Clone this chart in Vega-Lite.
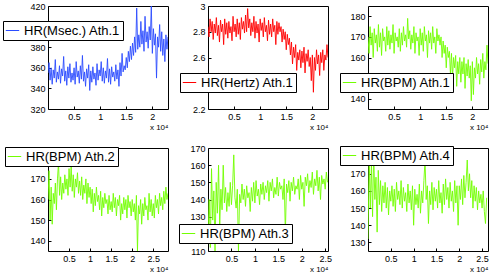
{
"$schema": "https://vega.github.io/schema/vega-lite/v6.json",
"padding": {"left": 2, "top": 1, "right": 2, "bottom": 0},
"background": "white",
"config": {
  "font": "Liberation Sans",
  "view": {"stroke": "black", "strokeWidth": 1},
  "axis": {"domain": false, "grid": false, "ticks": true, "tickSize": -3, "tickColor": "black", "labelPadding": 6, "labelFontSize": 9, "labelColor": "black", "labelFont": "Liberation Sans", "titleFont": "Liberation Sans", "titleFontSize": 8, "titleFontWeight": "normal", "titleColor": "black", "format": "~r"},
  "axisX": {"titleAnchor": "end", "titlePadding": 2},
  "legend": {"orient": "none", "strokeColor": "black", "fillColor": "white", "padding": 2, "cornerRadius": 0, "symbolType": "stroke", "symbolSize": 180, "symbolStrokeWidth": 1, "labelFontSize": 13, "labelFont": "Liberation Sans", "labelColor": "black", "labelOffset": 4, "title": null}
},
"columns": 3,
"spacing": {"row": 39, "column": 40},
"bounds": "flush",
"resolve": {"scale": {"x": "independent", "y": "independent", "color": "independent"}, "legend": {"color": "independent"}},
"concat": [
{
"width": 120, "height": 103,
"data": {"values": [
{"x":0,"y":355},{"x":0.02,"y":365},{"x":0.04,"y":348},{"x":0.06,"y":360},{"x":0.08,"y":344},{"x":0.1,"y":358},{"x":0.12,"y":350},{"x":0.14,"y":368},{"x":0.16,"y":346},{"x":0.18,"y":356},
{"x":0.2,"y":349},{"x":0.22,"y":362},{"x":0.24,"y":345},{"x":0.26,"y":359},{"x":0.28,"y":352},{"x":0.3,"y":371},{"x":0.32,"y":347},{"x":0.34,"y":357},{"x":0.36,"y":343},{"x":0.38,"y":361},
{"x":0.4,"y":350},{"x":0.42,"y":364},{"x":0.44,"y":346},{"x":0.46,"y":355},{"x":0.48,"y":348},{"x":0.5,"y":360},{"x":0.52,"y":344},{"x":0.54,"y":366},{"x":0.56,"y":351},{"x":0.58,"y":357},
{"x":0.6,"y":345},{"x":0.62,"y":362},{"x":0.64,"y":349},{"x":0.66,"y":372},{"x":0.68,"y":347},{"x":0.7,"y":356},{"x":0.72,"y":342},{"x":0.74,"y":359},{"x":0.76,"y":350},{"x":0.78,"y":363},
{"x":0.8,"y":338},{"x":0.82,"y":357},{"x":0.84,"y":346},{"x":0.86,"y":361},{"x":0.88,"y":349},{"x":0.9,"y":355},{"x":0.92,"y":343},{"x":0.94,"y":364},{"x":0.96,"y":348},{"x":0.98,"y":358},
{"x":1,"y":352},{"x":1.02,"y":366},{"x":1.04,"y":347},{"x":1.06,"y":360},{"x":1.08,"y":345},{"x":1.1,"y":357},{"x":1.12,"y":350},{"x":1.14,"y":369},{"x":1.16,"y":346},{"x":1.18,"y":359},
{"x":1.2,"y":344},{"x":1.22,"y":361},{"x":1.24,"y":351},{"x":1.26,"y":356},{"x":1.28,"y":347},{"x":1.3,"y":363},{"x":1.32,"y":349},{"x":1.34,"y":358},{"x":1.36,"y":342},{"x":1.38,"y":365},
{"x":1.4,"y":352},{"x":1.42,"y":374},{"x":1.44,"y":356},{"x":1.46,"y":362},{"x":1.48,"y":358},{"x":1.5,"y":370},{"x":1.52,"y":360},{"x":1.54,"y":376},{"x":1.56,"y":366},{"x":1.58,"y":381},
{"x":1.6,"y":368},{"x":1.62,"y":384},{"x":1.64,"y":372},{"x":1.66,"y":390},{"x":1.68,"y":375},{"x":1.7,"y":418},{"x":1.72,"y":378},{"x":1.74,"y":392},{"x":1.76,"y":380},{"x":1.78,"y":405},
{"x":1.8,"y":383},{"x":1.82,"y":396},{"x":1.84,"y":376},{"x":1.86,"y":410},{"x":1.88,"y":385},{"x":1.9,"y":395},{"x":1.92,"y":379},{"x":1.94,"y":400},{"x":1.96,"y":387},{"x":1.98,"y":420},
{"x":2,"y":374},{"x":2.02,"y":398},{"x":2.04,"y":382},{"x":2.06,"y":393},{"x":2.08,"y":350},{"x":2.1,"y":390},{"x":2.12,"y":380},{"x":2.14,"y":402},{"x":2.16,"y":376},{"x":2.18,"y":395},
{"x":2.2,"y":372},{"x":2.22,"y":388},{"x":2.24,"y":366},{"x":2.26,"y":392},{"x":2.28,"y":378},{"x":2.3,"y":390}
]},
"mark": {"type": "line", "strokeWidth": 0.9, "clip": true},
"encoding": {
  "x": {"field": "x", "type": "quantitative", "scale": {"domain": [0, 2.3], "nice": false, "zero": false}, "axis": {"values": [0.5, 1, 1.5, 2], "title": "x 10⁴"}},
  "y": {"field": "y", "type": "quantitative", "scale": {"domain": [320, 420], "nice": false, "zero": false}, "axis": {"values": [320, 340, 360, 380, 400, 420], "title": null}},
  "color": {"datum": "HR(Msec.) Ath.1", "type": "nominal", "scale": {"range": ["#2b4cff"]}, "legend": {"legendX": -45, "legendY": 15, "symbolStrokeColor": "#2b4cff"}}
}
},
{
"width": 120, "height": 103,
"data": {"values": [
{"x":0,"y":2.84},{"x":0.02,"y":2.76},{"x":0.04,"y":2.9},{"x":0.06,"y":2.8},{"x":0.08,"y":2.88},{"x":0.1,"y":2.74},{"x":0.12,"y":2.86},{"x":0.14,"y":2.79},{"x":0.16,"y":2.91},{"x":0.18,"y":2.77},
{"x":0.2,"y":2.85},{"x":0.22,"y":2.72},{"x":0.24,"y":2.89},{"x":0.26,"y":2.8},{"x":0.28,"y":2.86},{"x":0.3,"y":2.7},{"x":0.32,"y":2.9},{"x":0.34,"y":2.78},{"x":0.36,"y":2.87},{"x":0.38,"y":2.75},
{"x":0.4,"y":2.88},{"x":0.42,"y":2.79},{"x":0.44,"y":2.84},{"x":0.46,"y":2.73},{"x":0.48,"y":2.92},{"x":0.5,"y":2.8},{"x":0.52,"y":2.86},{"x":0.54,"y":2.76},{"x":0.56,"y":2.9},{"x":0.58,"y":2.78},
{"x":0.6,"y":2.87},{"x":0.62,"y":2.74},{"x":0.64,"y":2.91},{"x":0.66,"y":2.82},{"x":0.68,"y":2.88},{"x":0.7,"y":2.79},{"x":0.72,"y":2.93},{"x":0.74,"y":2.8},{"x":0.76,"y":2.98},{"x":0.78,"y":2.83},
{"x":0.8,"y":2.9},{"x":0.82,"y":2.77},{"x":0.84,"y":2.87},{"x":0.86,"y":2.8},{"x":0.88,"y":2.92},{"x":0.9,"y":2.75},{"x":0.92,"y":2.88},{"x":0.94,"y":2.79},{"x":0.96,"y":2.86},{"x":0.98,"y":2.72},
{"x":1,"y":2.9},{"x":1.02,"y":2.81},{"x":1.04,"y":2.87},{"x":1.06,"y":2.76},{"x":1.08,"y":2.91},{"x":1.1,"y":2.8},{"x":1.12,"y":2.85},{"x":1.14,"y":2.73},{"x":1.16,"y":2.89},{"x":1.18,"y":2.78},
{"x":1.2,"y":2.86},{"x":1.22,"y":2.76},{"x":1.24,"y":2.9},{"x":1.26,"y":2.8},{"x":1.28,"y":2.85},{"x":1.3,"y":2.7},{"x":1.32,"y":2.88},{"x":1.34,"y":2.78},{"x":1.36,"y":2.87},{"x":1.38,"y":2.8},
{"x":1.4,"y":2.84},{"x":1.42,"y":2.72},{"x":1.44,"y":2.82},{"x":1.46,"y":2.74},{"x":1.48,"y":2.8},{"x":1.5,"y":2.66},{"x":1.52,"y":2.78},{"x":1.54,"y":2.7},{"x":1.56,"y":2.75},{"x":1.58,"y":2.62},
{"x":1.6,"y":2.72},{"x":1.62,"y":2.55},{"x":1.64,"y":2.68},{"x":1.66,"y":2.6},{"x":1.68,"y":2.7},{"x":1.7,"y":2.5},{"x":1.72,"y":2.64},{"x":1.74,"y":2.58},{"x":1.76,"y":2.66},{"x":1.78,"y":2.52},
{"x":1.8,"y":2.65},{"x":1.82,"y":2.56},{"x":1.84,"y":2.68},{"x":1.86,"y":2.48},{"x":1.88,"y":2.63},{"x":1.9,"y":2.57},{"x":1.92,"y":2.66},{"x":1.94,"y":2.53},{"x":1.96,"y":2.6},{"x":1.98,"y":2.42},
{"x":2,"y":2.62},{"x":2.02,"y":2.33},{"x":2.04,"y":2.6},{"x":2.06,"y":2.5},{"x":2.08,"y":2.66},{"x":2.1,"y":2.55},{"x":2.12,"y":2.62},{"x":2.14,"y":2.46},{"x":2.16,"y":2.64},{"x":2.18,"y":2.56},
{"x":2.2,"y":2.66},{"x":2.22,"y":2.5},{"x":2.24,"y":2.62},{"x":2.26,"y":2.58},{"x":2.28,"y":2.7},{"x":2.3,"y":2.6}
]},
"mark": {"type": "line", "strokeWidth": 0.9, "clip": true},
"encoding": {
  "x": {"field": "x", "type": "quantitative", "scale": {"domain": [0, 2.3], "nice": false, "zero": false}, "axis": {"values": [0.5, 1, 1.5, 2], "title": "x 10⁴"}},
  "y": {"field": "y", "type": "quantitative", "scale": {"domain": [2.2, 3], "nice": false, "zero": false}, "axis": {"values": [2.2, 2.4, 2.6, 2.8, 3], "title": null}},
  "color": {"datum": "HR(Hertz) Ath.1", "type": "nominal", "scale": {"range": ["#ff0000"]}, "legend": {"legendX": -28, "legendY": 67, "symbolStrokeColor": "#ff0000"}}
}
},
{
"width": 120, "height": 103,
"data": {"values": [
{"x":0,"y":170},{"x":0.02,"y":162},{"x":0.04,"y":175},{"x":0.06,"y":166},{"x":0.08,"y":172},{"x":0.1,"y":160},{"x":0.12,"y":174},{"x":0.14,"y":167},{"x":0.16,"y":171},{"x":0.18,"y":163},
{"x":0.2,"y":176},{"x":0.22,"y":165},{"x":0.24,"y":172},{"x":0.26,"y":161},{"x":0.28,"y":174},{"x":0.3,"y":168},{"x":0.32,"y":170},{"x":0.34,"y":163},{"x":0.36,"y":175},{"x":0.38,"y":166},
{"x":0.4,"y":173},{"x":0.42,"y":164},{"x":0.44,"y":171},{"x":0.46,"y":167},{"x":0.48,"y":176},{"x":0.5,"y":162},{"x":0.52,"y":172},{"x":0.54,"y":168},{"x":0.56,"y":170},{"x":0.58,"y":165},
{"x":0.6,"y":174},{"x":0.62,"y":163},{"x":0.64,"y":172},{"x":0.66,"y":166},{"x":0.68,"y":175},{"x":0.7,"y":168},{"x":0.72,"y":171},{"x":0.74,"y":165},{"x":0.76,"y":179},{"x":0.78,"y":169},
{"x":0.8,"y":173},{"x":0.82,"y":164},{"x":0.84,"y":171},{"x":0.86,"y":167},{"x":0.88,"y":175},{"x":0.9,"y":162},{"x":0.92,"y":172},{"x":0.94,"y":168},{"x":0.96,"y":170},{"x":0.98,"y":161},
{"x":1,"y":174},{"x":1.02,"y":166},{"x":1.04,"y":172},{"x":1.06,"y":163},{"x":1.08,"y":175},{"x":1.1,"y":168},{"x":1.12,"y":171},{"x":1.14,"y":160},{"x":1.16,"y":173},{"x":1.18,"y":167},
{"x":1.2,"y":172},{"x":1.22,"y":164},{"x":1.24,"y":175},{"x":1.26,"y":167},{"x":1.28,"y":170},{"x":1.3,"y":162},{"x":1.32,"y":174},{"x":1.34,"y":168},{"x":1.36,"y":171},{"x":1.38,"y":166},
{"x":1.4,"y":170},{"x":1.42,"y":160},{"x":1.44,"y":168},{"x":1.46,"y":162},{"x":1.48,"y":166},{"x":1.5,"y":155},{"x":1.52,"y":165},{"x":1.54,"y":160},{"x":1.56,"y":163},{"x":1.58,"y":152},
{"x":1.6,"y":162},{"x":1.62,"y":150},{"x":1.64,"y":160},{"x":1.66,"y":155},{"x":1.68,"y":161},{"x":1.7,"y":146},{"x":1.72,"y":158},{"x":1.74,"y":152},{"x":1.76,"y":160},{"x":1.78,"y":148},
{"x":1.8,"y":158},{"x":1.82,"y":152},{"x":1.84,"y":160},{"x":1.86,"y":145},{"x":1.88,"y":157},{"x":1.9,"y":151},{"x":1.92,"y":159},{"x":1.94,"y":150},{"x":1.96,"y":156},{"x":1.98,"y":139},
{"x":2,"y":158},{"x":2.02,"y":142},{"x":2.04,"y":155},{"x":2.06,"y":150},{"x":2.08,"y":160},{"x":2.1,"y":152},{"x":2.12,"y":157},{"x":2.14,"y":147},{"x":2.16,"y":159},{"x":2.18,"y":153},
{"x":2.2,"y":162},{"x":2.22,"y":150},{"x":2.24,"y":158},{"x":2.26,"y":154},{"x":2.28,"y":166},{"x":2.3,"y":157}
]},
"mark": {"type": "line", "strokeWidth": 0.9, "clip": true},
"encoding": {
  "x": {"field": "x", "type": "quantitative", "scale": {"domain": [0, 2.3], "nice": false, "zero": false}, "axis": {"values": [0.5, 1, 1.5, 2], "title": "x 10⁴"}},
  "y": {"field": "y", "type": "quantitative", "scale": {"domain": [135, 185], "nice": false, "zero": false}, "axis": {"values": [140, 150, 160, 170, 180], "title": null}},
  "color": {"datum": "HR(BPM) Ath.1", "type": "nominal", "scale": {"range": ["#72ff00"]}, "legend": {"legendX": -28, "legendY": 67, "symbolStrokeColor": "#72ff00"}}
}
},
{
"width": 120, "height": 103,
"data": {"values": [
{"x":0,"y":160},{"x":0.025,"y":174},{"x":0.05,"y":150},{"x":0.075,"y":166},{"x":0.1,"y":148},{"x":0.125,"y":163},{"x":0.15,"y":158},{"x":0.175,"y":168},{"x":0.2,"y":155},{"x":0.225,"y":170},
{"x":0.25,"y":178},{"x":0.275,"y":162},{"x":0.3,"y":171},{"x":0.325,"y":160},{"x":0.35,"y":168},{"x":0.375,"y":163},{"x":0.4,"y":172},{"x":0.425,"y":165},{"x":0.45,"y":170},{"x":0.475,"y":162},
{"x":0.5,"y":175},{"x":0.525,"y":166},{"x":0.55,"y":176},{"x":0.575,"y":164},{"x":0.6,"y":172},{"x":0.625,"y":161},{"x":0.65,"y":170},{"x":0.675,"y":166},{"x":0.7,"y":173},{"x":0.725,"y":163},
{"x":0.75,"y":169},{"x":0.775,"y":162},{"x":0.8,"y":171},{"x":0.825,"y":160},{"x":0.85,"y":167},{"x":0.875,"y":163},{"x":0.9,"y":170},{"x":0.925,"y":158},{"x":0.95,"y":168},{"x":0.975,"y":161},
{"x":1,"y":166},{"x":1.025,"y":158},{"x":1.05,"y":165},{"x":1.075,"y":154},{"x":1.1,"y":163},{"x":1.125,"y":157},{"x":1.15,"y":166},{"x":1.175,"y":159},{"x":1.2,"y":162},{"x":1.225,"y":155},
{"x":1.25,"y":164},{"x":1.275,"y":152},{"x":1.3,"y":161},{"x":1.325,"y":156},{"x":1.35,"y":163},{"x":1.375,"y":158},{"x":1.4,"y":160},{"x":1.425,"y":153},{"x":1.45,"y":162},{"x":1.475,"y":155},
{"x":1.5,"y":159},{"x":1.525,"y":154},{"x":1.55,"y":163},{"x":1.575,"y":156},{"x":1.6,"y":161},{"x":1.625,"y":152},{"x":1.65,"y":160},{"x":1.675,"y":157},{"x":1.7,"y":162},{"x":1.725,"y":150},
{"x":1.75,"y":158},{"x":1.775,"y":153},{"x":1.8,"y":161},{"x":1.825,"y":155},{"x":1.85,"y":160},{"x":1.875,"y":151},{"x":1.9,"y":162},{"x":1.925,"y":156},{"x":1.95,"y":159},{"x":1.975,"y":152},
{"x":2,"y":160},{"x":2.025,"y":154},{"x":2.05,"y":158},{"x":2.075,"y":150},{"x":2.1,"y":162},{"x":2.125,"y":135},{"x":2.15,"y":157},{"x":2.175,"y":153},{"x":2.2,"y":160},{"x":2.225,"y":148},
{"x":2.25,"y":158},{"x":2.275,"y":152},{"x":2.3,"y":161},{"x":2.325,"y":155},{"x":2.35,"y":157},{"x":2.375,"y":150},{"x":2.4,"y":163},{"x":2.425,"y":154},{"x":2.45,"y":160},{"x":2.475,"y":152},
{"x":2.5,"y":158},{"x":2.525,"y":151},{"x":2.55,"y":162},{"x":2.575,"y":156},{"x":2.6,"y":160},{"x":2.625,"y":153},{"x":2.65,"y":163},{"x":2.675,"y":157},{"x":2.7,"y":161},{"x":2.725,"y":155},
{"x":2.75,"y":164},{"x":2.775,"y":158},{"x":2.8,"y":166},{"x":2.825,"y":160},{"x":2.85,"y":163}
]},
"mark": {"type": "line", "strokeWidth": 0.9, "clip": true},
"encoding": {
  "x": {"field": "x", "type": "quantitative", "scale": {"domain": [0, 2.85], "nice": false, "zero": false}, "axis": {"values": [0.5, 1, 1.5, 2, 2.5], "title": "x 10⁴"}},
  "y": {"field": "y", "type": "quantitative", "scale": {"domain": [135, 185], "nice": false, "zero": false}, "axis": {"values": [140, 150, 160, 170, 180], "title": null}},
  "color": {"datum": "HR(BPM) Ath.2", "type": "nominal", "scale": {"range": ["#72ff00"]}, "legend": {"legendX": -43, "legendY": -1, "symbolStrokeColor": "#72ff00"}}
}
},
{
"width": 120, "height": 103,
"data": {"values": [
{"x":0,"y":120},{"x":0.025,"y":140},{"x":0.05,"y":112},{"x":0.075,"y":158},{"x":0.1,"y":128},{"x":0.125,"y":145},{"x":0.15,"y":110},{"x":0.175,"y":150},{"x":0.2,"y":132},{"x":0.225,"y":160},
{"x":0.25,"y":125},{"x":0.275,"y":146},{"x":0.3,"y":134},{"x":0.325,"y":160},{"x":0.35,"y":138},{"x":0.375,"y":147},{"x":0.4,"y":133},{"x":0.425,"y":144},{"x":0.45,"y":136},{"x":0.475,"y":150},
{"x":0.5,"y":137},{"x":0.525,"y":148},{"x":0.55,"y":166},{"x":0.575,"y":141},{"x":0.6,"y":135},{"x":0.625,"y":146},{"x":0.65,"y":110},{"x":0.675,"y":143},{"x":0.7,"y":138},{"x":0.725,"y":149},
{"x":0.75,"y":140},{"x":0.775,"y":146},{"x":0.8,"y":136},{"x":0.825,"y":148},{"x":0.85,"y":141},{"x":0.875,"y":144},{"x":0.9,"y":133},{"x":0.925,"y":147},{"x":0.95,"y":139},{"x":0.975,"y":150},
{"x":1,"y":138},{"x":1.025,"y":151},{"x":1.05,"y":142},{"x":1.075,"y":146},{"x":1.1,"y":137},{"x":1.125,"y":149},{"x":1.15,"y":143},{"x":1.175,"y":150},{"x":1.2,"y":140},{"x":1.225,"y":148},
{"x":1.25,"y":144},{"x":1.275,"y":151},{"x":1.3,"y":139},{"x":1.325,"y":150},{"x":1.35,"y":145},{"x":1.375,"y":152},{"x":1.4,"y":141},{"x":1.425,"y":147},{"x":1.45,"y":143},{"x":1.475,"y":153},
{"x":1.5,"y":142},{"x":1.525,"y":150},{"x":1.55,"y":146},{"x":1.575,"y":148},{"x":1.6,"y":140},{"x":1.625,"y":152},{"x":1.65,"y":120},{"x":1.675,"y":149},{"x":1.7,"y":144},{"x":1.725,"y":151},
{"x":1.75,"y":139},{"x":1.775,"y":150},{"x":1.8,"y":145},{"x":1.825,"y":153},{"x":1.85,"y":143},{"x":1.875,"y":148},{"x":1.9,"y":146},{"x":1.925,"y":152},{"x":1.95,"y":140},{"x":1.975,"y":154},
{"x":2,"y":146},{"x":2.025,"y":150},{"x":2.05,"y":136},{"x":2.075,"y":153},{"x":2.1,"y":148},{"x":2.125,"y":155},{"x":2.15,"y":144},{"x":2.175,"y":151},{"x":2.2,"y":147},{"x":2.225,"y":156},
{"x":2.25,"y":143},{"x":2.275,"y":152},{"x":2.3,"y":148},{"x":2.325,"y":157},{"x":2.35,"y":145},{"x":2.375,"y":153},{"x":2.4,"y":140},{"x":2.425,"y":154},{"x":2.45,"y":149},{"x":2.475,"y":152},
{"x":2.5,"y":146},{"x":2.525,"y":156},{"x":2.55,"y":150}
]},
"mark": {"type": "line", "strokeWidth": 0.9, "clip": true},
"encoding": {
  "x": {"field": "x", "type": "quantitative", "scale": {"domain": [0, 2.56], "nice": false, "zero": false}, "axis": {"values": [0.5, 1, 1.5, 2, 2.5], "title": "x 10⁴"}},
  "y": {"field": "y", "type": "quantitative", "scale": {"domain": [110, 170], "nice": false, "zero": false}, "axis": {"values": [110, 120, 130, 140, 150, 160, 170], "title": null}},
  "color": {"datum": "HR(BPM) Ath.3", "type": "nominal", "scale": {"range": ["#72ff00"]}, "legend": {"legendX": -29, "legendY": 76, "symbolStrokeColor": "#72ff00"}}
}
},
{
"width": 120, "height": 103,
"data": {"values": [
{"x":0,"y":132},{"x":0.025,"y":180},{"x":0.05,"y":150},{"x":0.075,"y":176},{"x":0.1,"y":145},{"x":0.125,"y":182},{"x":0.15,"y":155},{"x":0.175,"y":168},{"x":0.2,"y":136},{"x":0.225,"y":172},
{"x":0.25,"y":152},{"x":0.275,"y":166},{"x":0.3,"y":148},{"x":0.325,"y":163},{"x":0.35,"y":153},{"x":0.375,"y":165},{"x":0.4,"y":150},{"x":0.425,"y":162},{"x":0.45,"y":146},{"x":0.475,"y":160},
{"x":0.5,"y":154},{"x":0.525,"y":163},{"x":0.55,"y":151},{"x":0.575,"y":161},{"x":0.6,"y":148},{"x":0.625,"y":165},{"x":0.65,"y":155},{"x":0.675,"y":160},{"x":0.7,"y":152},{"x":0.725,"y":166},
{"x":0.75,"y":150},{"x":0.775,"y":162},{"x":0.8,"y":154},{"x":0.825,"y":159},{"x":0.85,"y":148},{"x":0.875,"y":164},{"x":0.9,"y":153},{"x":0.925,"y":160},{"x":0.95,"y":149},{"x":0.975,"y":163},
{"x":1,"y":140},{"x":1.025,"y":161},{"x":1.05,"y":152},{"x":1.075,"y":158},{"x":1.1,"y":150},{"x":1.125,"y":164},{"x":1.15,"y":147},{"x":1.175,"y":160},{"x":1.2,"y":153},{"x":1.225,"y":166},
{"x":1.25,"y":178},{"x":1.275,"y":155},{"x":1.3,"y":163},{"x":1.325,"y":141},{"x":1.35,"y":160},{"x":1.375,"y":152},{"x":1.4,"y":165},{"x":1.425,"y":149},{"x":1.45,"y":162},{"x":1.475,"y":154},
{"x":1.5,"y":161},{"x":1.525,"y":150},{"x":1.55,"y":166},{"x":1.575,"y":153},{"x":1.6,"y":159},{"x":1.625,"y":147},{"x":1.65,"y":164},{"x":1.675,"y":152},{"x":1.7,"y":167},{"x":1.725,"y":155},
{"x":1.75,"y":162},{"x":1.775,"y":150},{"x":1.8,"y":165},{"x":1.825,"y":154},{"x":1.85,"y":160},{"x":1.875,"y":148},{"x":1.9,"y":166},{"x":1.925,"y":153},{"x":1.95,"y":163},{"x":1.975,"y":140},
{"x":2,"y":163},{"x":2.025,"y":155},{"x":2.05,"y":167},{"x":2.075,"y":152},{"x":2.1,"y":169},{"x":2.125,"y":156},{"x":2.15,"y":165},{"x":2.175,"y":178},{"x":2.2,"y":160},{"x":2.225,"y":170},
{"x":2.25,"y":156},{"x":2.275,"y":166},{"x":2.3,"y":150},{"x":2.325,"y":163},{"x":2.35,"y":154},{"x":2.375,"y":162},{"x":2.4,"y":149},{"x":2.425,"y":160},{"x":2.45,"y":153},{"x":2.475,"y":158},
{"x":2.5,"y":150},{"x":2.525,"y":160},{"x":2.55,"y":148},{"x":2.575,"y":141},{"x":2.6,"y":156}
]},
"mark": {"type": "line", "strokeWidth": 0.9, "clip": true},
"encoding": {
  "x": {"field": "x", "type": "quantitative", "scale": {"domain": [0, 2.63], "nice": false, "zero": false}, "axis": {"values": [0.5, 1, 1.5, 2, 2.5], "title": "x 10⁴"}},
  "y": {"field": "y", "type": "quantitative", "scale": {"domain": [125, 185], "nice": false, "zero": false}, "axis": {"values": [130, 140, 150, 160, 170, 180], "title": null}},
  "color": {"datum": "HR(BPM) Ath.4", "type": "nominal", "scale": {"range": ["#72ff00"]}, "legend": {"legendX": -28, "legendY": -2, "symbolStrokeColor": "#72ff00"}}
}
}
]
}
